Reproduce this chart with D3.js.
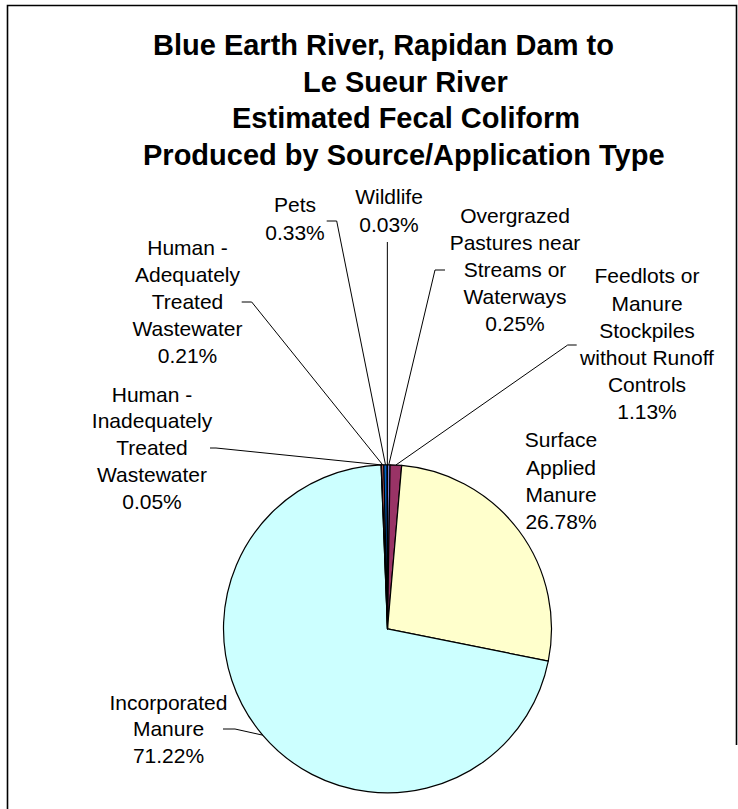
<!DOCTYPE html>
<html>
<head>
<meta charset="utf-8">
<script src="https://cdn.jsdelivr.net/npm/d3@7/dist/d3.min.js"></script>
<style>
  html, body { margin: 0; padding: 0; background: #fff; }
  svg { display: block; }
  text { font-family: "Liberation Sans", Arial, sans-serif; fill: #000; }
</style>
</head>
<body>
<svg id="chart" width="738" height="809"></svg>
<script>
// ---- data ----
const categories = [
  "Overgrazed Pastures near Streams or Waterways",
  "Feedlots or Manure Stockpiles without Runoff Controls",
  "Surface Applied Manure",
  "Incorporated Manure",
  "Human - Inadequately Treated Wastewater",
  "Human - Adequately Treated Wastewater",
  "Pets",
  "Wildlife"
];
const values = [0.25, 1.13, 26.78, 71.22, 0.05, 0.21, 0.33, 0.03];
const labelLines = [
  ["Overgrazed", "Pastures near", "Streams or", "Waterways"],
  ["Feedlots or", "Manure", "Stockpiles", "without Runoff", "Controls"],
  ["Surface", "Applied", "Manure"],
  ["Incorporated", "Manure"],
  ["Human -", "Inadequately", "Treated", "Wastewater"],
  ["Human -", "Adequately", "Treated", "Wastewater"],
  ["Pets"],
  ["Wildlife"]
];
const colors = ["#9999FF", "#993366", "#FFFFCC", "#CCFFFF", "#660066", "#FF8080", "#0066CC", "#CCCCFF"];
const titleLines = [
  "Blue Earth River, Rapidan Dam to",
  "Le Sueur River",
  "Estimated Fecal Coliform",
  "Produced by Source/Application Type"
];

// ---- layout ----
const svg = d3.select("#chart");
const cx = 387.5, cy = 628.8, R = 164;

// frame
svg.append("path")
  .attr("d", "M7.5,809 L7.5,5.5 L736.5,5.5 L736.5,745")
  .attr("fill", "none").attr("stroke", "#000").attr("stroke-width", 1.6);

// title
const titlePos = [[153, 55], [303, 91.7], [232, 128.3], [143, 165]];
svg.append("g").selectAll("text").data(titleLines).join("text")
  .attr("x", (d, i) => titlePos[i][0])
  .attr("y", (d, i) => titlePos[i][1])
  .attr("font-size", 29).attr("font-weight", "bold")
  .text(d => d);

// pie
const data = categories.map((c, i) => ({ name: c, value: values[i], color: colors[i], lines: labelLines[i] }));
const pie = d3.pie().value(d => d.value).sort(null).startAngle(0).endAngle(2 * Math.PI);
const arcs = pie(data);
const arc = d3.arc().innerRadius(0).outerRadius(R);

const g = svg.append("g").attr("transform", `translate(${cx},${cy})`);
g.selectAll("path").data(arcs).join("path")
  .attr("d", arc)
  .attr("fill", d => d.data.color)
  .attr("stroke", "#000")
  .attr("stroke-width", 1.2)
  .attr("stroke-linejoin", "round");

// label layout: [centerX, firstBaseline, lineSpacing, leaderStartX, leaderBendX, leaderY]
const labelLayout = [
  [515, 223.3, 26.8, 445, 435, 270],
  [647, 283.3, 27.2, 576.7, 567.7, 345],
  [561, 447.3, 27.3, null, null, null],
  [168.5, 710, 26.4, 223, 235, 729],
  [152, 401.7, 26.7, 210, 216, 448],
  [187.5, 255, 27, 241.7, 251.7, 302],
  [295, 212.3, 27.7, 326.7, 336.7, 221],
  [389, 204, 27.7, null, null, 242]
];
const fmt = d3.format(".2f");

const lg = svg.append("g");
arcs.forEach((a, i) => {
  const L = labelLayout[i];
  const lines = a.data.lines.concat([fmt(a.data.value) + "%"]);
  lines.forEach((t, k) => {
    lg.append("text")
      .attr("x", L[0]).attr("y", L[1] + k * L[2])
      .attr("text-anchor", "middle")
      .attr("font-size", 21)
      .text(t);
  });
  if (L[5] !== null) {
    const mid = (a.startAngle + a.endAngle) / 2;
    const ex = cx + R * Math.sin(mid), ey = cy - R * Math.cos(mid);
    let pts;
    if (L[3] === null) pts = [[ex, L[5]], [ex, ey]];
    else pts = [[L[3], L[5]], [L[4], L[5]], [ex, ey]];
    lg.append("path")
      .attr("d", d3.line()(pts))
      .attr("fill", "none").attr("stroke", "#000").attr("stroke-width", 1);
  }
});
</script>
</body>
</html>
